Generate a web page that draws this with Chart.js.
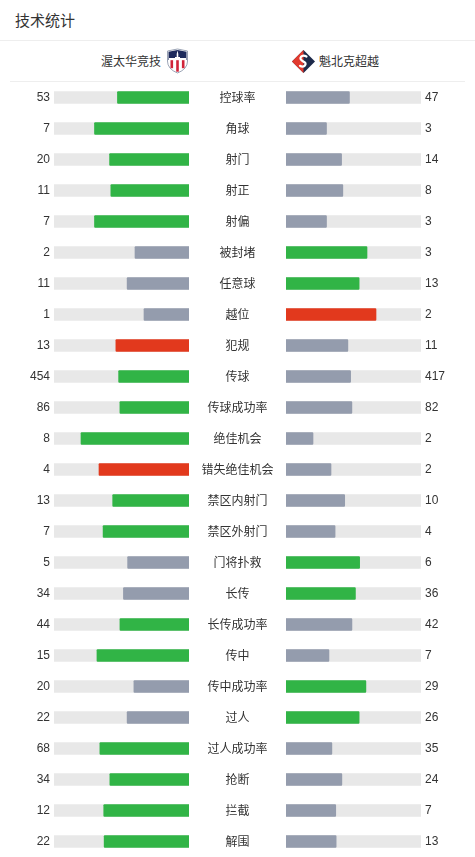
<!DOCTYPE html>
<html><head><meta charset="utf-8">
<script src="https://cdn.jsdelivr.net/npm/chart.js@4"></script>
<style>
html,body{margin:0;padding:0;background:#fff;width:475px;height:857px;overflow:hidden;font-family:"Liberation Sans","Noto Sans CJK SC",sans-serif;}
#title{position:absolute;left:15px;top:9px;font-size:15px;color:#333;font-family:"Noto Sans CJK SC",sans-serif;line-height:22px;}
#line1{position:absolute;left:0;top:40px;width:475px;height:1px;background:#eeeeee;}
#line2{position:absolute;left:10px;top:81px;width:455px;height:1px;background:#eeeeee;}
.team{position:absolute;top:52px;font-size:12px;color:#333;font-family:"Noto Sans CJK SC",sans-serif;line-height:18px;}
#homeName{right:314px;}
#awayName{left:319px;}
.logo{position:absolute;}
#lwrap{position:absolute;left:0;top:82px;width:286px;height:775px;}
#rwrap{position:absolute;left:286px;top:82px;width:189px;height:775px;}
</style></head>
<body>
<div id="title">技术统计</div>
<div id="line1"></div>
<div class="team" id="homeName">渥太华竞技</div>
<svg class="logo" style="left:166px;top:48px" width="23" height="26" viewBox="0 0 23 26">
  <path d="M1.5 3 L11.5 1 L21.5 3 L21.5 13 Q21.5 21 11.5 25 Q1.5 21 1.5 13 Z" fill="#fff" stroke="#9aa3b5" stroke-width="1"/>
  <path d="M2.5 3.8 L11.5 2 L20.5 3.8 L20.5 12 L2.5 12 Z" fill="#1d2a5c"/>
  <path d="M11.5 2.5 L12.3 6 L12.3 9 L14 9 L14 12 L9 12 L9 9 L10.7 9 L10.7 6 Z" fill="#fff"/>
  <rect x="3" y="10" width="17" height="2.2" fill="#fff"/>
  <path d="M2.5 12.2 L20.5 12.2 L20.5 13 Q20.5 20.5 11.5 24 Q2.5 20.5 2.5 13 Z" fill="#fff"/>
  <rect x="4.5" y="12.2" width="2.6" height="8" fill="#d0243a"/>
  <rect x="10.2" y="12.2" width="2.6" height="11.5" fill="#d0243a"/>
  <rect x="15.9" y="12.2" width="2.6" height="8" fill="#d0243a"/>
</svg>
<svg class="logo" style="left:291px;top:49px" width="25" height="25" viewBox="0 0 25 25">
  <path d="M12.5 1 L24 12.5 L12.5 24 L1 12.5 Z" fill="#1d2a4a"/>
  <path d="M12.5 1 L12.5 24 L1 12.5 Z" fill="#e23a2e"/>
  <path d="M15.5 7.5 Q12 5.5 10 7.8 Q8.3 10 11.5 12 L13.5 13.2 Q15.5 14.6 13.8 16.6 Q11.8 18.4 9 16.8" fill="none" stroke="#fff" stroke-width="2.2" stroke-linecap="round"/>
</svg>
<div class="team" id="awayName">魁北克超越</div>
<div id="line2"></div>
<div id="lwrap"><canvas id="left"></canvas></div>
<div id="rwrap"><canvas id="right"></canvas></div>
<script>
const categories = ['控球率','角球','射门','射正','射偏','被封堵','任意球','越位','犯规','传球','传球成功率','绝佳机会','错失绝佳机会','禁区内射门','禁区外射门','门将扑救','长传','长传成功率','传中','传中成功率','过人','过人成功率','抢断','拦截','解围'];
const homeValues = [53,7,20,11,7,2,11,1,13,454,86,8,4,13,7,5,34,44,15,20,22,68,34,12,22];
const awayValues = [47,3,14,8,3,3,13,2,11,417,82,2,2,10,4,6,36,42,7,29,26,35,24,7,13];
const lowerIsBetter = ['越位','犯规','错失绝佳机会'];

const GREEN = '#31b446', GRAY = '#949cad', RED = '#e2391d', TRACK = '#e8e8e8';
const TEXT = '#333333';

const homeShare = homeValues.map((v,i)=> v/(v+awayValues[i]));
const awayShare = awayValues.map((v,i)=> v/(homeValues[i]+v));
const track = categories.map(()=>1);

function colorFor(mine, other, cat){
  if (mine > other) return lowerIsBetter.includes(cat) ? RED : GREEN;
  return GRAY;
}
const homeColors = categories.map((c,i)=>colorFor(homeValues[i], awayValues[i], c));
const awayColors = categories.map((c,i)=>colorFor(awayValues[i], homeValues[i], c));

Chart.defaults.font.family = '"Liberation Sans","Noto Sans CJK SC",sans-serif';
Chart.defaults.font.size = 12;
Chart.defaults.color = TEXT;

const centerLabels = {
  id:'centerLabels',
  afterDraw(chart){
    const ctx = chart.ctx, ys = chart.scales.y, area = chart.chartArea;
    ctx.save();
    ctx.font = '12px "Noto Sans CJK SC",sans-serif';
    ctx.fillStyle = TEXT;
    ctx.textAlign = 'center';
    ctx.textBaseline = 'middle';
    const cx = area.right + 48.5;
    categories.forEach((c,i)=>{ ctx.fillText(c, cx, ys.getPixelForValue(i)); });
    ctx.restore();
  }
};

function makeChart(id, shares, colors, values, side){
  return new Chart(document.getElementById(id), {
    type:'bar',
    data:{
      labels: categories,
      datasets:[
        {data: shares, backgroundColor: colors, barThickness:12, grouped:false, order:0, borderRadius:1, borderSkipped:false},
        {data: track, backgroundColor: TRACK, barThickness:12, grouped:false, order:1, borderRadius:1, borderSkipped:false}
      ]
    },
    options:{
      indexAxis:'y',
      responsive:true,
      maintainAspectRatio:false,
      animation:false,
      events:[],
      layout:{padding: side==='left' ? {left:0,right:97,top:0,bottom:0} : {left:0,right:0,top:0,bottom:0}},
      plugins:{legend:{display:false}, tooltip:{enabled:false}},
      scales:{
        x:{display:false, min:0, max:1, reverse: side==='left'},
        y:{
          position: side,
          grid:{display:false, drawTicks:false},
          border:{display:false},
          afterFit(s){ s.width = 54; s.paddingTop = 0; s.paddingBottom = 0; },
          ticks:{
            padding:4,
            font:{size:12},
            color:TEXT,
            callback:(v,i)=> String(values[i])
          }
        }
      }
    },
    plugins: side==='left' ? [centerLabels] : []
  });
}
makeChart('left', homeShare, homeColors, homeValues, 'left');
makeChart('right', awayShare, awayColors, awayValues, 'right');
</script>
</body></html>
